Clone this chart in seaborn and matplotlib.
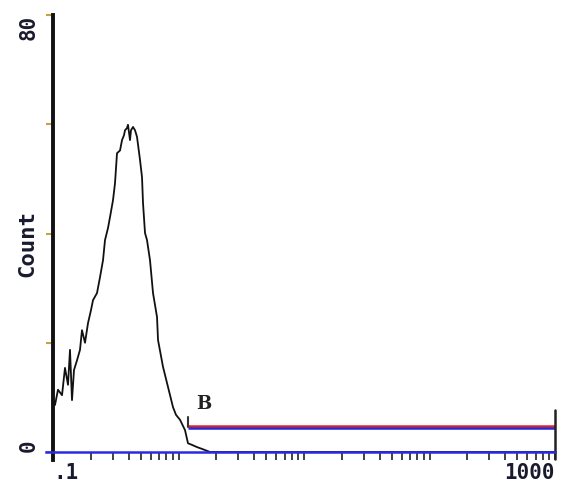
import numpy as np
import pandas as pd
import matplotlib
matplotlib.use("Agg")
import matplotlib.pyplot as plt
from matplotlib.ticker import LogLocator, NullFormatter, FixedLocator
import seaborn as sns

# Fluorescence channel (log scale) and event counts of the histogram trace
fluorescence = [0.100, 0.1037, 0.1096, 0.1180, 0.1246, 0.1317, 0.1366, 0.1417, 0.1470,
                0.1554, 0.1641, 0.1702, 0.1799, 0.1901, 0.2009, 0.2084, 0.2242, 0.2369,
                0.2503, 0.2597, 0.2743, 0.2846, 0.3007, 0.3119, 0.3236, 0.3420, 0.3548,
                0.3679, 0.3748, 0.3887, 0.3959, 0.4107, 0.4183, 0.4341, 0.4502, 0.4670,
                0.4934, 0.5120, 0.5214, 0.5409, 0.5610, 0.5929, 0.6265, 0.6743, 0.6868,
                0.7524, 0.8249, 0.9042, 0.9552, 1.028, 1.127, 1.190, 1.281, 1.404,
                1.567, 1.782, 1000.0]
counts = [9.5, 8.6, 11.4, 10.4, 15.4, 12.3, 18.7, 9.5, 15.0,
          16.8, 18.7, 22.3, 20.0, 23.6, 26.0, 27.8, 29.1, 32.0,
          35.1, 38.8, 41.0, 43.0, 46.1, 49.2, 54.7, 55.2, 57.1,
          58.0, 58.9, 59.3, 59.9, 57.1, 58.9, 59.5, 58.9, 57.7,
          53.5, 50.3, 45.6, 40.1, 38.8, 35.1, 29.1, 24.7, 20.5,
          15.6, 11.9, 8.2, 6.8, 5.9, 4.0, 1.6, 1.3, 0.9,
          0.5, 0.0, 0.0]

# Marker region "B"
gate_name = "B"
gate_start = 1.19
gate_end = 1000.0
gate_level = 4.6

x_limits = [0.1, 1000]
y_limits = [0, 80]
y_ticks = [0, 20, 40, 60, 80]
y_tick_labels = ["0", "", "", "", "80"]
x_axis_labels = [".1", "1000"]
y_title = "Count"

sns.set_theme(style="white")
plt.rcParams["font.family"] = ["DejaVu Sans Mono", "DejaVu Sans"]

fig = plt.figure(figsize=(5.66, 4.95), dpi=100)
ax = fig.add_axes([53 / 566, 43 / 495, 502 / 566, 437 / 495])

df = pd.DataFrame({"fluorescence": fluorescence, "count": counts})
sns.lineplot(data=df, x="fluorescence", y="count", sort=False, estimator=None,
             color="#111111", linewidth=1.3, ax=ax)

ax.set_xscale("log")
ax.set_xlim(*x_limits)
ax.set_ylim(*y_limits)

# Gate marker: red / blue pair with end bars
ax.plot([gate_start, gate_end], [gate_level + 0.25, gate_level + 0.25], color="#e8201c",
        lw=1.8, solid_capstyle="butt", clip_on=False)
ax.plot([gate_start, gate_end], [gate_level - 0.25, gate_level - 0.25], color="#2626d8",
        lw=1.8, solid_capstyle="butt", clip_on=False)
ax.plot([gate_start, gate_start], [gate_level, gate_level + 1.8], color="#333333",
        lw=1.5, clip_on=False)
ax.plot([gate_end, gate_end], [gate_level - 5.8, gate_level + 3.1], color="#222222",
        lw=1.8, clip_on=False)
ax.text(1.58, gate_level + 2.6, gate_name, fontsize=13, fontweight="bold",
        color="#222222", ha="center", va="bottom", family="DejaVu Serif")

# Axes styling
for side in ["top", "right"]:
    ax.spines[side].set_visible(False)
ax.spines["left"].set_color("#111111")
ax.spines["left"].set_linewidth(2.8)
ax.spines["left"].set_bounds(-1.5, 80)
ax.spines["bottom"].set_color("#2a2ae0")
ax.spines["bottom"].set_linewidth(1.8)
ax.spines["bottom"].set_bounds(0.088, 1000)

ax.xaxis.set_major_locator(FixedLocator([0.1, 1000]))
ax.xaxis.set_minor_locator(LogLocator(base=10, subs=np.arange(1, 10), numticks=20))
ax.xaxis.set_minor_formatter(NullFormatter())
ax.set_xticklabels(x_axis_labels)
ax.tick_params(axis="x", which="both", direction="out", length=6, width=1.2,
               color="#222222", bottom=True, labelsize=15, pad=2,
               labelcolor="#1a1a2e")
for lbl, ha in zip(ax.get_xticklabels(), ["left", "right"]):
    lbl.set_horizontalalignment(ha)
    lbl.set_fontweight("bold")

ax.set_yticks(y_ticks)
ax.set_yticklabels(y_tick_labels)
ax.tick_params(axis="y", which="major", direction="out", length=5, width=1.5,
               color="#c9a040", left=True, labelsize=15, pad=5,
               labelcolor="#1a1a2e")
for lbl, va in zip(ax.get_yticklabels(), ["bottom", "center", "center", "center", "top"]):
    lbl.set_rotation(90)
    lbl.set_verticalalignment(va)
    lbl.set_fontweight("bold")

ax.set_xlabel("")
ax.set_ylabel(y_title, fontsize=16, fontweight="bold", color="#1a1a2e", labelpad=4)
ax.yaxis.set_label_coords(-0.032, 0.478)

fig.savefig("out.png", dpi=100, facecolor="white")
